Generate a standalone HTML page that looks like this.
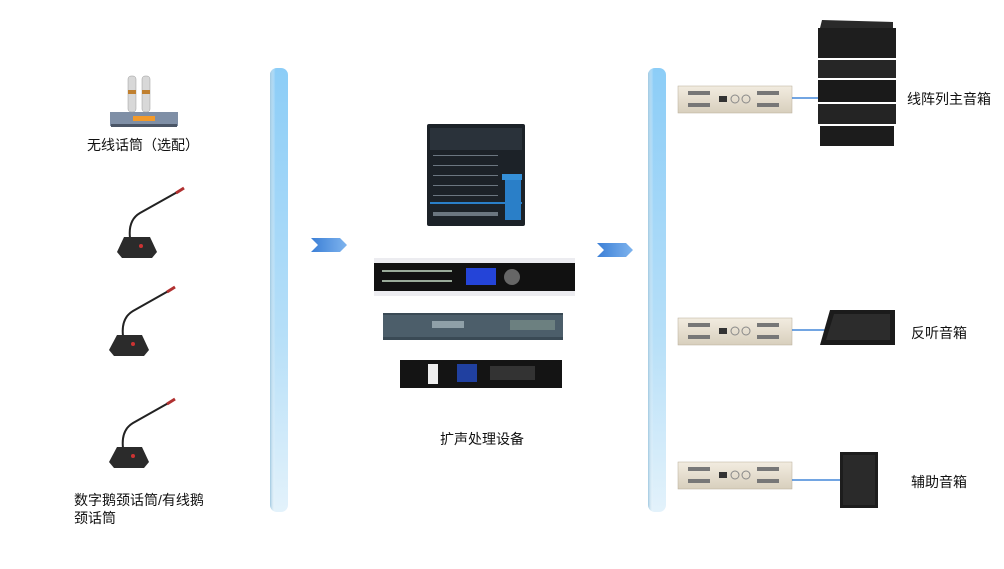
<!DOCTYPE html>
<html><head><meta charset="utf-8"><style>
body{margin:0;background:#fff;}
.t{font-family:"Liberation Sans","Noto Sans CJK SC",sans-serif;font-size:14px;fill:#111;}
</style></head><body>
<svg width="1004" height="564" xmlns="http://www.w3.org/2000/svg">
<defs>
<linearGradient id="bar" x1="0" y1="0" x2="0" y2="1">
<stop offset="0" stop-color="#8ccdf7"/><stop offset="0.6" stop-color="#b6dff8"/><stop offset="1" stop-color="#e3f2fb"/></linearGradient>
<linearGradient id="barh" x1="0" y1="0" x2="1" y2="0">
<stop offset="0" stop-color="#9fc8e0"/><stop offset="0.3" stop-color="#ffffff" stop-opacity="0"/><stop offset="1" stop-color="#ffffff" stop-opacity="0"/></linearGradient>
<linearGradient id="amp" x1="0" y1="0" x2="0" y2="1"><stop offset="0" stop-color="#f2ece0"/><stop offset="1" stop-color="#d8cfbd"/></linearGradient>
<linearGradient id="arr" x1="0" y1="0" x2="1" y2="0"><stop offset="0" stop-color="#3b7fd6"/><stop offset="1" stop-color="#7fb4ee"/></linearGradient>
</defs>
<!-- bars -->
<rect x="270" y="68" width="18" height="444" rx="7" fill="url(#bar)"/>
<rect x="270" y="68" width="18" height="444" rx="7" fill="url(#barh)"/>
<rect x="648" y="68" width="18" height="444" rx="7" fill="url(#bar)"/>
<rect x="648" y="68" width="18" height="444" rx="7" fill="url(#barh)"/>
<!-- arrows -->
<polygon points="311,238 340,238 347,245 340,252 311,252 318,245" fill="url(#arr)"/>
<polygon points="597,243 626,243 633,250 626,257 597,257 604,250" fill="url(#arr)"/>
<!-- wireless mic -->
<rect x="110" y="112" width="68" height="14" fill="#7f8fa6"/>
<rect x="133" y="116" width="22" height="5" fill="#f39a2a"/>
<rect x="111" y="124" width="66" height="3" fill="#4a5566"/>
<rect x="128" y="76" width="8" height="36" rx="3" fill="#d8d8d8" stroke="#999" stroke-width="0.5"/>
<rect x="142" y="76" width="8" height="36" rx="3" fill="#d8d8d8" stroke="#999" stroke-width="0.5"/>
<rect x="128" y="90" width="8" height="4" fill="#c08030"/><rect x="142" y="90" width="8" height="4" fill="#c08030"/>
<text class="t" x="87" y="150">无线话筒（选配）</text>
<!-- gooseneck mics -->
<g id="m1">
<path d="M130 238 Q128 220 140 213 L181 190" stroke="#222" stroke-width="2" fill="none"/>
<line x1="176" y1="193" x2="184" y2="188" stroke="#b03030" stroke-width="3"/>
<polygon points="124,237 150,237 157,252 152,258 122,258 117,252" fill="#2b2b2b"/>
<circle cx="141" cy="246" r="2" fill="#c33"/>
</g>
<g>
<path d="M123 336 Q121 318 133 311 L172 289" stroke="#222" stroke-width="2" fill="none"/>
<line x1="167" y1="292" x2="175" y2="287" stroke="#b03030" stroke-width="3"/>
<polygon points="117,335 142,335 149,350 144,356 114,356 109,350" fill="#2b2b2b"/>
<circle cx="133" cy="344" r="2" fill="#c33"/>
</g>
<g>
<path d="M123 448 Q121 430 133 423 L172 401" stroke="#222" stroke-width="2" fill="none"/>
<line x1="167" y1="404" x2="175" y2="399" stroke="#b03030" stroke-width="3"/>
<polygon points="117,447 142,447 149,462 144,468 114,468 109,462" fill="#2b2b2b"/>
<circle cx="133" cy="456" r="2" fill="#c33"/>
</g>
<text class="t" x="74" y="505">数字鹅颈话筒/有线鹅</text>
<text class="t" x="74" y="523">颈话筒</text>
<!-- mixer -->
<rect x="427" y="124" width="98" height="102" rx="2" fill="#1c2228"/>
<rect x="430" y="128" width="92" height="22" fill="#2a323a"/>
<rect x="505" y="174" width="16" height="46" fill="#2a7fc8"/>
<rect x="502" y="174" width="20" height="6" fill="#3590d8"/>
<rect x="430" y="202" width="92" height="2" fill="#2a7fc8"/>
<g fill="#6b7680"><rect x="433" y="155" width="65" height="1"/><rect x="433" y="165" width="65" height="1"/><rect x="433" y="175" width="65" height="1"/><rect x="433" y="185" width="65" height="1"/><rect x="433" y="195" width="65" height="1"/><rect x="433" y="212" width="65" height="4"/></g>
<!-- rack 1 -->
<rect x="374" y="258" width="201" height="38" fill="#ececf0"/>
<rect x="374" y="263" width="201" height="28" fill="#111"/>
<rect x="382" y="270" width="70" height="2" fill="#9a9"/><rect x="382" y="280" width="70" height="2" fill="#9a9"/>
<rect x="466" y="268" width="30" height="17" fill="#2444d8"/>
<circle cx="512" cy="277" r="8" fill="#666"/>
<!-- rack 2 -->
<rect x="383" y="313" width="180" height="27" fill="#3a4a55"/>
<rect x="383" y="315" width="180" height="22" fill="#4c5e6a"/>
<rect x="432" y="321" width="32" height="7" fill="#8fa0a8"/>
<rect x="510" y="320" width="45" height="10" fill="#6c8080"/>
<!-- rack 3 -->
<rect x="400" y="360" width="162" height="28" fill="#141414"/>
<rect x="428" y="364" width="10" height="20" fill="#eee"/>
<rect x="457" y="364" width="20" height="18" fill="#2040a0"/>
<rect x="490" y="366" width="45" height="14" fill="#333"/>
<text class="t" x="440" y="444">扩声处理设备</text>
<!-- amps -->
<g id="a1">
<rect x="678" y="86" width="114" height="27" fill="url(#amp)" stroke="#b8ad98" stroke-width="0.5"/>
<rect x="688" y="91" width="22" height="4" fill="#777"/><rect x="688" y="103" width="22" height="4" fill="#777"/>
<rect x="757" y="91" width="22" height="4" fill="#777"/><rect x="757" y="103" width="22" height="4" fill="#777"/>
<rect x="719" y="96" width="8" height="6" fill="#333"/>
<circle cx="735" cy="99" r="4" fill="none" stroke="#888"/><circle cx="746" cy="99" r="4" fill="none" stroke="#888"/>
</g>
<use href="#a1" y="232"/>
<use href="#a1" y="376"/>
<line x1="792" y1="98" x2="828" y2="98" stroke="#1f6fd0" stroke-width="1.3"/>
<line x1="792" y1="330" x2="826" y2="330" stroke="#1f6fd0" stroke-width="1.3"/>
<line x1="792" y1="480" x2="840" y2="480" stroke="#1f6fd0" stroke-width="1.3"/>
<!-- line array -->
<polygon points="822,20 893,22 893,28 820,28" fill="#2a2a2a"/>
<rect x="818" y="28" width="78" height="30" fill="#1e1e1e"/>
<rect x="818" y="60" width="78" height="18" fill="#262626"/>
<rect x="818" y="80" width="78" height="22" fill="#1a1a1a"/>
<rect x="818" y="104" width="78" height="20" fill="#242424"/>
<rect x="820" y="126" width="74" height="20" fill="#1c1c1c"/>
<text class="t" x="907" y="104">线阵列主音箱</text>
<!-- monitor -->
<polygon points="830,310 895,310 895,345 820,345" fill="#1b1b1b"/>
<polygon points="834,314 890,314 890,340 826,340" fill="#2c2c2c"/>
<text class="t" x="911" y="338">反听音箱</text>
<!-- cabinet -->
<rect x="840" y="452" width="38" height="56" fill="#1d1d1d"/>
<rect x="843" y="455" width="32" height="50" fill="#2a2a2a"/>
<text class="t" x="911" y="487">辅助音箱</text>
</svg>
</body></html>
